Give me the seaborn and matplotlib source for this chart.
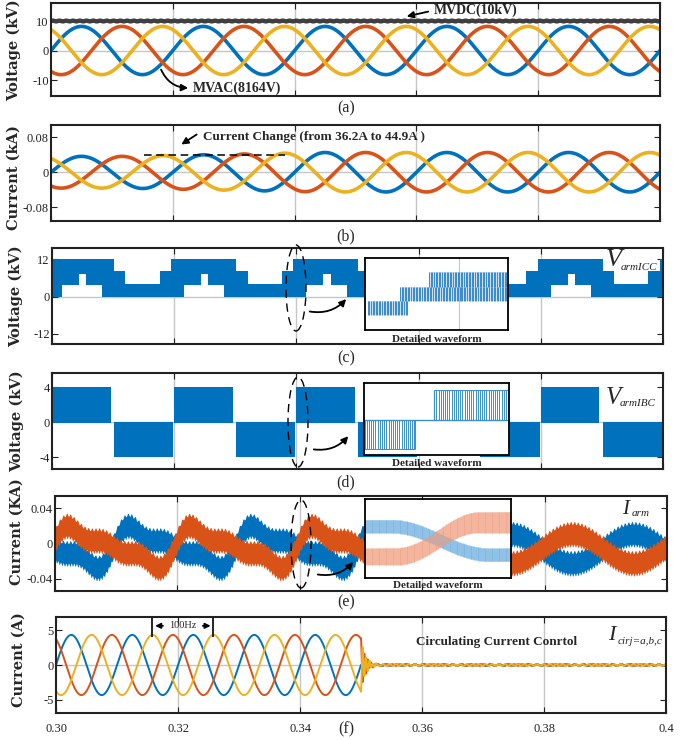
import numpy as np
import pandas as pd
import matplotlib
matplotlib.use("Agg")
import matplotlib.pyplot as plt
from matplotlib.patches import Ellipse, FancyArrowPatch
import seaborn as sns

# ------------------------------------------------------------------
# Time base and shared axis settings
# ------------------------------------------------------------------
T_START, T_END = 0.30, 0.40
x_ticks = [0.30, 0.32, 0.34, 0.36, 0.38, 0.40]
x_ticklabels = ["0.30", "0.32", "0.34", "0.36", "0.38", "0.4"]
x_grid = [0.32, 0.34, 0.36, 0.38]

phase_names = ["a", "b", "c"]
phase_colors = ["#0072BD", "#D95319", "#EDB120"]

# (a) medium-voltage AC / DC
mvac_peak_kv = 8.164
grid_freq_hz = 50.0
mvac_phase_deg = [0.0, -120.0, 120.0]
mvdc_kv = 10.0
mvdc_ripple_kv = 0.12
mvdc_ripple_hz = 900.0

# (b) grid current amplitude (A) through the load change
current_knot_t = [0.300, 0.312, 0.344, 0.400]
current_knot_amp_a = [36.2, 36.2, 44.9, 44.9]
current_dashed_t = [0.3152, 0.3385]
current_dashed_ka = 0.039

# (c) ICC arm voltage envelope over one 20 ms cycle (kV)
icc_break_ms = [0.0, 1.6, 4.4, 5.6, 8.2, 10.1, 12.0, 17.6, 19.5, 20.0]
icc_upper_kv = [12.3, 12.3, 12.3, 12.3, 12.3, 8.2, 4.2, 8.2, 12.3]
icc_lower_kv = [0.0, 3.9, 7.4, 3.9, 0.0, 0.0, 0.0, 0.0, 0.0]

# (d) IBC arm voltage envelope over one 20 ms cycle (kV)
ibc_break_ms = [0.0, 9.6, 10.1, 19.8, 20.0]
ibc_upper_kv = [4.05, 0.0, 0.0, 0.0]
ibc_lower_kv = [-0.10, 0.0, -3.95, 0.0]

# (e) arm currents (kA): dc part before/after control, harmonic content
arm_dc_ka = [-0.004, -0.006]
arm_fund_ka = 0.0166
arm_harm_ratio = [1 / 2, 1 / 3]          # 2nd and 3rd harmonic vs fundamental
arm_ripple_ka = 0.0128
arm_edge_ripple_ka = 0.0017
arm_ref_t = {"upper": 0.3095, "lower": 0.2995}
control_on_t = 0.350
control_blend_s = 0.008

# (f) circulating currents (A)
circ_peak_a = 4.3
circ_freq_hz = 100.0
circ_phase_deg = [0.0, 120.0, -120.0]
circ_decay_s = 0.0007
circ_ring_hz = 1800.0
circ_residual_a = 0.12
circ_residual_hz = [650.0, 800.0, 950.0]
marker_100hz_t = [0.3158, 0.3258]

# zoomed "detailed waveform" sketches (inset-normalised units)
icc_detail_x0 = [0.02, 0.245, 0.45, 0.68]
icc_detail_x1 = [0.30, 0.68, 1.00, 1.00]
icc_detail_lo = [0.21, 0.40, 0.60, 0.40]
icc_detail_hi = [0.40, 0.60, 0.81, 0.60]
ibc_detail_zero = 0.49
ibc_detail_x0 = [0.00, 0.48]
ibc_detail_x1 = [0.35, 1.00]
ibc_detail_tip = [0.09, 0.90]
arm_detail_blue_ends = [0.655, 0.295]
arm_detail_blue_span = [0.18, 0.85]
arm_detail_orange_ends = [0.275, 0.705]
arm_detail_orange_span = [0.22, 0.78]
arm_detail_halfwidth = {"blue": [0.085, 0.085], "orange": [0.105, 0.135]}

# ------------------------------------------------------------------
# Style
# ------------------------------------------------------------------
sns.set_theme(style="white")
plt.rcParams.update({
    "font.family": ["Liberation Serif", "DejaVu Serif"],
    "mathtext.fontset": "stix",
    "axes.unicode_minus": False,
})

W, H = 682, 740
fig = plt.figure(figsize=(W / 100, H / 100), dpi=100, facecolor="white")


def rect_px(l, t, r, b):
    return [l / W, 1 - b / H, (r - l) / W, (b - t) / H]


def fig_xy(x, y):
    return (x / W, 1 - y / H)


panel_rects = {
    "a": (51, 3, 660, 96),
    "b": (51, 125, 660, 221),
    "c": (52, 248, 663, 344),
    "d": (52, 373, 663, 469),
    "e": (55, 496, 667, 591),
    "f": (56, 617, 666, 713),
}
axes = {k: fig.add_axes(rect_px(*v)) for k, v in panel_rects.items()}

GRID_C = "#c6c6c6"
EDGE_C = "#222222"


def style_axis(ax, ylim, yticks, ylabels, show_x=False):
    ax.set_xlim(T_START, T_END)
    ax.set_ylim(*ylim)
    ax.set_xticks(x_ticks)
    ax.set_xticklabels(x_ticklabels if show_x else [])
    ax.set_yticks(yticks)
    ax.set_yticklabels(ylabels)
    ax.set_xlabel("")
    ax.set_ylabel("")
    ax.tick_params(axis="both", direction="in", length=4, width=0.8,
                   color=EDGE_C, labelcolor="#222222", labelsize=9,
                   left=True, right=True, bottom=True, top=True)
    ax.tick_params(axis="y", pad=1.5)
    ax.tick_params(axis="x", pad=7)
    for gx in x_grid:
        ax.axvline(gx, color=GRID_C, lw=1.0, zorder=0)
    ax.axhline(0, color=GRID_C, lw=1.0, zorder=0)
    for s in ax.spines.values():
        s.set_visible(True)
        s.set_linewidth(1.5)
        s.set_color(EDGE_C)


t = np.linspace(T_START, T_END, 6001)
palette = dict(zip(phase_names, phase_colors))

# ------------------------------------------------------------------
# (a) MVAC / MVDC voltages
# ------------------------------------------------------------------
ax = axes["a"]
theta = 2 * np.pi * grid_freq_hz * (t - T_START)
df_a = pd.DataFrame({
    "t": np.tile(t, 3),
    "v": np.concatenate([mvac_peak_kv * np.sin(theta + np.deg2rad(p)) for p in mvac_phase_deg]),
    "phase": np.repeat(phase_names, len(t)),
})
sns.lineplot(data=df_a, x="t", y="v", hue="phase", hue_order=phase_names,
             palette=palette, linewidth=2.6, legend=False, estimator=None, ax=ax)
mvdc = mvdc_kv + mvdc_ripple_kv * np.sin(2 * np.pi * mvdc_ripple_hz * t)
sns.lineplot(x=t, y=mvdc, color="#3f3f3f", linewidth=3.2, estimator=None, ax=ax)
style_axis(ax, (-15.4, 16.1), [-10, 0, 10], ["-10", "0", "10"])

# ------------------------------------------------------------------
# (b) grid currents
# ------------------------------------------------------------------
ax = axes["b"]
amp_ka = np.interp(t, current_knot_t, current_knot_amp_a) / 1000.0
df_b = pd.DataFrame({
    "t": np.tile(t, 3),
    "i": np.concatenate([amp_ka * np.sin(theta + np.deg2rad(p)) for p in mvac_phase_deg]),
    "phase": np.repeat(phase_names, len(t)),
})
sns.lineplot(data=df_b, x="t", y="i", hue="phase", hue_order=phase_names,
             palette=palette, linewidth=2.6, legend=False, estimator=None, ax=ax)
ax.plot(current_dashed_t, [current_dashed_ka] * 2, color="black", lw=1.1,
        ls=(0, (5, 3)), zorder=4)
style_axis(ax, (-0.111, 0.1075), [-0.08, 0, 0.08], ["-0.08", "0", "0.08"])


# ------------------------------------------------------------------
# helper for periodic stepped envelopes
# ------------------------------------------------------------------
def periodic_steps(break_ms, values, period_ms=20.0):
    n_per = int(round((T_END - T_START) * 1000 / period_ms))
    edges, vals = [], []
    for k in range(n_per):
        for b, v in zip(break_ms[:-1], values):
            edges.append(T_START + (k * period_ms + b) / 1000.0)
            vals.append(v)
    edges.append(T_END)
    vals.append(values[-1])
    return np.array(edges), np.array(vals)


BLUE = phase_colors[0]
ORANGE = phase_colors[1]

# ------------------------------------------------------------------
# (c) ICC arm voltage
# ------------------------------------------------------------------
ax = axes["c"]
te, up = periodic_steps(icc_break_ms, icc_upper_kv)
_, lo = periodic_steps(icc_break_ms, icc_lower_kv)
ax.fill_between(te, lo, up, step="post", color=BLUE, lw=0, zorder=2)
style_axis(ax, (-15.3, 15.7), [-12, 0, 12], ["-12", "0", "12"])

# ------------------------------------------------------------------
# (d) IBC arm voltage
# ------------------------------------------------------------------
ax = axes["d"]
te, up = periodic_steps(ibc_break_ms, ibc_upper_kv)
_, lo = periodic_steps(ibc_break_ms, ibc_lower_kv)
ax.fill_between(te, lo, up, step="post", color=BLUE, lw=0, zorder=2)
style_axis(ax, (-5.35, 5.6), [-4, 0, 4], ["-4", "0", "4"])

# ------------------------------------------------------------------
# (e) arm currents
# ------------------------------------------------------------------
ax = axes["e"]
g = np.clip((control_on_t + control_blend_s - t) / control_blend_s, 0, 1)
dc = arm_dc_ka[0] * g + arm_dc_ka[1] * (1 - g)


def arm_current(t_ref):
    x = 2 * np.pi * grid_freq_hz * (t - t_ref)
    return dc + arm_fund_ka * (np.sin(x)
                               + g * arm_harm_ratio[0] * np.sin(2 * x)
                               + g * arm_harm_ratio[1] * np.sin(3 * x))


edge_up = arm_edge_ripple_ka * np.sin(2 * np.pi * 1700 * t)
edge_lo = arm_edge_ripple_ka * np.sin(2 * np.pi * 2300 * t + 1.0)
for name, col in (("upper", BLUE), ("lower", ORANGE)):
    c = arm_current(arm_ref_t[name])
    ax.fill_between(t, c - arm_ripple_ka + edge_lo, c + arm_ripple_ka + edge_up,
                    color=col, lw=0, zorder=2)
style_axis(ax, (-0.054, 0.054), [-0.04, 0, 0.04], ["-0.04", "0", "0.04"])

# ------------------------------------------------------------------
# (f) circulating currents
# ------------------------------------------------------------------
ax = axes["f"]
phi = 2 * np.pi * circ_freq_hz * (t - T_START)
dt = np.clip(t - control_on_t, 0, None)
after = t >= control_on_t
series = []
for k, p in enumerate(circ_phase_deg):
    base = circ_peak_a * np.sin(phi + np.deg2rad(p))
    v0 = circ_peak_a * np.sin(2 * np.pi * circ_freq_hz * (control_on_t - T_START) + np.deg2rad(p))
    settled = (v0 * np.exp(-dt / circ_decay_s) * np.cos(2 * np.pi * circ_ring_hz * dt)
               + circ_residual_a * np.sin(2 * np.pi * circ_residual_hz[k] * t + k))
    series.append(np.where(after, settled, base))
df_f = pd.DataFrame({
    "t": np.tile(t, 3),
    "i": np.concatenate(series),
    "phase": np.repeat(phase_names, len(t)),
})
sns.lineplot(data=df_f, x="t", y="i", hue="phase", hue_order=phase_names,
             palette=palette, linewidth=1.4, legend=False, estimator=None, ax=ax)
style_axis(ax, (-6.86, 6.86), [-5, 0, 5], ["-5", "0", "5"], show_x=True)

# 100 Hz period marker
ax.vlines(marker_100hz_t, 4.0, 6.75, color="black", lw=1.2, zorder=5)
mid = sum(marker_100hz_t) / 2
ax.annotate("", xy=(marker_100hz_t[0], 5.6), xytext=(mid - 0.0028, 5.6),
            arrowprops=dict(arrowstyle="-|>", color="black", lw=1.2, mutation_scale=8))
ax.annotate("", xy=(marker_100hz_t[1], 5.6), xytext=(mid + 0.0028, 5.6),
            arrowprops=dict(arrowstyle="-|>", color="black", lw=1.2, mutation_scale=8))
ax.text(mid, 5.6, "100Hz", ha="center", va="center", fontsize=7.5)

# ------------------------------------------------------------------
# Text, labels and call-outs
# ------------------------------------------------------------------
ylabels = [("a", "Voltage (kV)", 14, 50), ("b", "Current (kA)", 14, 178),
           ("c", "Voltage (kV)", 16, 296), ("d", "Voltage (kV)", 17, 421),
           ("e", "Current (KA)", 17, 532), ("f", "Current (A)", 19, 660)]
for _, txt, x, y in ylabels:
    fig.text(*fig_xy(x, y), txt, rotation=90, ha="center", va="center",
             fontsize=10.5, fontweight="bold", family="DejaVu Serif")

for lab, y in (("(a)", 108), ("(b)", 236), ("(c)", 358), ("(d)", 482),
               ("(e)", 602), ("(f)", 729)):
    fig.text(*fig_xy(346, y), lab, ha="center", va="center", fontsize=11.5)


def arrow(p0, p1, rad=0.0, ms=10, lw=1.3):
    fig.add_artist(FancyArrowPatch(fig_xy(*p0), fig_xy(*p1), transform=fig.transFigure,
                                   connectionstyle=f"arc3,rad={rad}", arrowstyle="-|>",
                                   mutation_scale=ms, lw=lw, color="black", zorder=12))


fig.text(*fig_xy(434, 10), "MVDC(10kV)", ha="left", va="center", fontsize=10,
         fontweight="bold", zorder=12)
arrow((431, 11), (404, 17))
fig.text(*fig_xy(193, 88), "MVAC(8164V)", ha="left", va="center", fontsize=10,
         fontweight="bold", zorder=12)
arrow((160, 67), (191, 88), rad=0.35)

fig.text(*fig_xy(203, 137), "Current Change (from 36.2A to 44.9A )", ha="left",
         va="center", fontsize=9.5, fontweight="bold", zorder=12)
arrow((199, 133), (179, 146))

fig.text(*fig_xy(497, 642), "Circulating Current Conrtol", ha="center", va="center",
         fontsize=9.5, fontweight="bold", zorder=12)

# symbol labels: large italic letter with small italic subscript
symbols = [("V", "armICC", (606, 260), (621, 267), 19),
           ("V", "armIBC", (606, 398), (620, 403), 18),
           ("I", "arm", (622, 509), (632, 514), 15),
           ("I", "cirj=a,b,c", (608, 636), (618, 641), 16)]
for main, sub, p_main, p_sub, fs in symbols:
    fig.text(*fig_xy(*p_main), main, ha="left", va="center", fontsize=fs,
             style="italic", zorder=12)
    fig.text(*fig_xy(*p_sub), sub, ha="left", va="center", fontsize=8,
             style="italic", zorder=12)

# dashed ellipses around t = 0.34 and curved arrows to the insets
for (cx, cy, hh), (a0, a1) in (((296, 288, 86), ((307, 311), (348, 297))),
                               ((298, 422, 90), ((311, 449), (350, 434))),
                               ((301, 544, 88), ((315, 574), (355, 560)))):
    fig.add_artist(Ellipse(fig_xy(cx, cy), 20 / W, hh / H, transform=fig.transFigure,
                           fill=False, ls=(0, (6, 4)), lw=1.0, ec="black", zorder=11))
    arrow(a0, a1, rad=0.3)

# ------------------------------------------------------------------
# Detailed-waveform insets
# ------------------------------------------------------------------
inset_rects = {"c": (365, 258, 508, 330), "d": (364, 383, 509, 455),
               "e": (365, 499, 511, 578)}
caption_y = {"c": 339, "d": 464, "e": 586}
insets = {}
for k, r in inset_rects.items():
    ia = fig.add_axes(rect_px(*r), zorder=6)
    ia.set_xlim(0, 1)
    ia.set_ylim(0, 1)
    ia.set_xticks([])
    ia.set_yticks([])
    ia.set_facecolor("white")
    for s in ia.spines.values():
        s.set_visible(True)
        s.set_linewidth(1.3)
        s.set_color("black")
    insets[k] = ia
    fig.text(*fig_xy((r[0] + r[2]) / 2, caption_y[k]), "Detailed waveform",
             ha="center", va="center", fontsize=8, fontweight="bold", zorder=12)

LIGHT_BLUE = "#3a8fd2"
ia = insets["c"]
ia.axvline(0.66, color=GRID_C, lw=0.8, zorder=0)
for x0, x1, lo_, hi_ in zip(icc_detail_x0, icc_detail_x1, icc_detail_lo, icc_detail_hi):
    xs = np.arange(x0, x1, 0.011)
    ia.vlines(xs, lo_, hi_, color="#2b80c8", lw=0.7, alpha=0.9)
    ia.fill_between([x0, x1], lo_, hi_, color="#8fc0e6", alpha=0.45, lw=0)

ia = insets["d"]
ia.axhline(ibc_detail_zero, color=LIGHT_BLUE, lw=1.0)
for x0, x1, tip in zip(ibc_detail_x0, ibc_detail_x1, ibc_detail_tip):
    xs = np.arange(x0 + 0.004, x1, 0.015)
    ia.vlines(xs, ibc_detail_zero, tip, color=LIGHT_BLUE, lw=0.7)
    ia.hlines(tip, x0, x1, color=LIGHT_BLUE, lw=0.7)
    ia.vlines([x0 + 0.002, x1 - 0.002], ibc_detail_zero, tip, color=LIGHT_BLUE, lw=0.9)

ia = insets["e"]
xd = np.linspace(0, 1, 600)


def smooth_shift(x, ends, span):
    s = np.clip((x - span[0]) / (span[1] - span[0]), 0, 1)
    w = 0.5 - 0.5 * np.cos(np.pi * s)
    return ends[0] + (ends[1] - ends[0]) * w


for key, ends, span, col in (("blue", arm_detail_blue_ends, arm_detail_blue_span, "#6fb0e0"),
                             ("orange", arm_detail_orange_ends, arm_detail_orange_span, "#f0a080")):
    cen = smooth_shift(xd, ends, span)
    hw = smooth_shift(xd, arm_detail_halfwidth[key], [0.0, 1.0])
    ia.fill_between(xd, cen - hw, cen + hw, color=col, alpha=0.55, lw=0)
    xs = np.arange(0.003, 1.0, 0.006)
    cs = smooth_shift(xs, ends, span)
    hs = smooth_shift(xs, arm_detail_halfwidth[key], [0.0, 1.0])
    ia.vlines(xs, cs - hs, cs + hs, color=col, lw=0.5, alpha=0.7)

fig.savefig("out.png", dpi=100, facecolor="white")
